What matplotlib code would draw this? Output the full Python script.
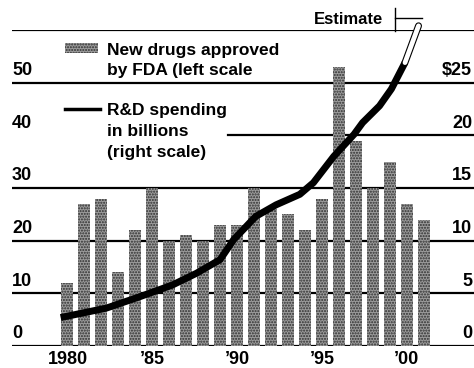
import numpy as np
import matplotlib
matplotlib.use("Agg")
import matplotlib.pyplot as plt

# New drugs approved by FDA (left scale)
years = [1980, 1981, 1982, 1983, 1984, 1985, 1986, 1987, 1988, 1989, 1990,
         1991, 1992, 1993, 1994, 1995, 1996, 1997, 1998, 1999, 2000, 2001]
drugs = [12, 27, 28, 14, 22, 30, 20, 21, 20, 23, 23,
         30, 26, 25, 22, 28, 53, 39, 30, 35, 27, 24]

# R&D spending in billions (right scale)
rd_x = [1979.6, 1982.3, 1984.3, 1986.2, 1987.6, 1989.0, 1989.8, 1991.1, 1992.3,
        1993.7, 1994.5, 1995.7, 1996.9, 1997.4, 1998.4, 1999.1, 1999.9]
rd_y = [2.7, 3.6, 4.7, 5.8, 6.9, 8.2, 10.1, 12.3, 13.4,
        14.4, 15.5, 18.0, 20.1, 21.2, 22.8, 24.4, 26.9]
est_x = [1999.9, 2000.7]
est_y = [26.9, 30.4]

left_ticks = [0, 10, 20, 30, 40, 50]
right_labels = ["0", "5", "10", "15", "20", "$25"]
year_ticks = [1980, 1985, 1990, 1995, 2000]
year_labels = ["1980", "\u201985", "\u201990", "\u201995", "\u201900"]

W, H = 474, 368
fig = plt.figure(figsize=(W / 100, H / 100), dpi=100)
ax = fig.add_axes([12 / W, 22 / H, 462 / W, 316 / H])
ax.set_xlim(1976.73, 2003.97)
ax.set_ylim(0, 60)
ax.axis("off")

fam = ["Liberation Sans", "DejaVu Sans"]
tick_font = dict(family=fam, weight="bold", fontsize=13, color="black")
leg_font = dict(family=fam, weight="bold", fontsize=12.5, color="black")

# gridlines
for v in [0, 10, 20, 30, 50, 60]:
    ax.axhline(v, color="black", lw=1.6, zorder=1)
ax.axhline(40, xmin=216 / 462, color="black", lw=1.6, zorder=1)

# bars (left scale)
ax.bar(years, drugs, width=0.71, color="#9c9c9c", edgecolor="#2e2e2e",
       linewidth=0, hatch="......", zorder=2)

# R&D line (right scale = left / 2)
ax.plot(rd_x, np.array(rd_y) * 2, color="black", lw=5, solid_capstyle="butt", zorder=3)
ax.plot(est_x, np.array(est_y) * 2, color="black", lw=5, solid_capstyle="round", zorder=3, clip_on=False)
ax.plot(est_x, np.array(est_y) * 2, color="white", lw=3.4, solid_capstyle="round", zorder=4, clip_on=False)

# axis labels
yt = ax.get_yaxis_transform()
for v, lab in zip(left_ticks, right_labels):
    ax.text(0, v + 0.7, str(v), transform=yt, ha="left", va="bottom", **tick_font)
    ax.text(0.9957, v + 0.7, lab, transform=yt, ha="right", va="bottom", **tick_font)

xt = ax.get_xaxis_transform()
for yr, lab in zip(year_ticks, year_labels):
    ax.text(yr, -18 / 316, lab, transform=xt, ha="center", va="baseline", **tick_font)

# legend
fig.patches.append(plt.Rectangle((65 / W, 1 - 53 / H), 33 / W, 10 / H,
                                 transform=fig.transFigure, facecolor="#9c9c9c",
                                 edgecolor="#2e2e2e", linewidth=0, hatch="......"))
fig.lines.append(plt.Line2D([65 / W, 100 / W], [1 - 109 / H] * 2,
                            transform=fig.transFigure, color="black", lw=2.5))
for txt, base in [("New drugs approved", 55), ("by FDA (left scale", 74.5),
                  ("R&D spending", 115), ("in billions", 136.5), ("(right scale)", 156.5)]:
    fig.text(107 / W, 1 - base / H, txt, ha="left", va="baseline", **leg_font)

# estimate note
fig.text(383 / W, 1 - 24 / H, "Estimate", ha="right", va="baseline",
         family=fam, weight="bold", fontsize=12)
fig.lines.append(plt.Line2D([395 / W, 395 / W], [1 - 8 / H, 1 - 31 / H],
                            transform=fig.transFigure, color="black", lw=1))
fig.lines.append(plt.Line2D([395 / W, 422 / W], [1 - 18 / H] * 2,
                            transform=fig.transFigure, color="black", lw=1))

fig.savefig("out.png", dpi=100)
